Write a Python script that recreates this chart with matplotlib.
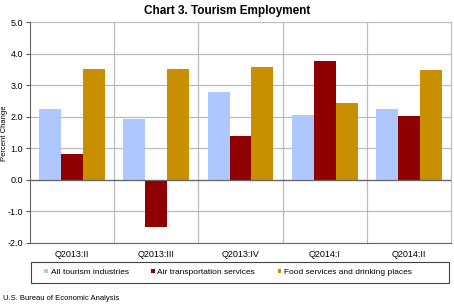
import matplotlib
matplotlib.use('Agg')
import matplotlib.pyplot as plt
from matplotlib.patches import Rectangle
import numpy as np

plt.rcParams['font.family'] = ['Liberation Sans', 'DejaVu Sans']

quarters = ['Q2013:II', 'Q2013:III', 'Q2013:IV', 'Q2014:I', 'Q2014:II']
all_tourism = [2.25, 1.93, 2.78, 2.06, 2.24]
air_transport = [0.83, -1.50, 1.40, 3.76, 2.02]
food_services = [3.52, 3.52, 3.57, 2.43, 3.49]
series_names = ['All tourism industries', 'Air transportation services',
                'Food services and drinking places']
colors = ['#AEC8FF', '#900000', '#C89000']

fig = plt.figure(figsize=(4.54, 3.06), dpi=100)
ax = fig.add_axes([30/454, 1-243/306, 421/454, 221/306])

x = np.arange(len(quarters))
w = 0.26
for k, (vals, c) in enumerate(zip([all_tourism, air_transport, food_services], colors)):
    ax.bar(x + (k-1)*w, vals, width=w, color=c, label=series_names[k], zorder=3)

ax.set_xlim(-0.5, len(quarters)-0.5)
ax.set_ylim(-2.0, 5.0)
ax.set_yticks(np.arange(-2, 5.1, 1))
ax.set_yticklabels(['%.1f' % v for v in np.arange(-2, 5.1, 1)], fontsize=6.5)
ax.set_xticks(x)
ax.set_xticklabels(quarters, fontsize=6.5)
ax.tick_params(axis='x', length=0, pad=5)
ax.tick_params(axis='y', length=3, width=0.8, color='#555555', pad=2)
for xv in np.arange(0.5, len(quarters)-0.5, 1):
    ax.axvline(xv, color='#BBBBBB', lw=0.9, zorder=1)
ax.yaxis.grid(True, color='#BBBBBB', lw=0.9, zorder=1)
ax.axhline(0, color='#666666', lw=0.9, zorder=4)
ax.spines['top'].set_visible(False)
ax.spines['right'].set_color('#BBBBBB')
ax.spines['left'].set_color('#666666')
ax.spines['bottom'].set_color('#666666')

fig.text(5/454, 1-133/306, 'Percent Change', rotation=90, ha='center', va='center',
         fontsize=5.5)

fig.text(0.5, 0.985, 'Chart 3. Tourism Employment', ha='center', va='top',
         fontsize=8.5, fontweight='bold')

# legend box drawn separately, items centred inside it
fig.patches.append(Rectangle((31/454, 1-283/306), 418/454, 21/306, transform=fig.transFigure,
                             fill=False, edgecolor='#444444', lw=0.8))
leg = fig.legend(loc='center', bbox_to_anchor=(228/454, 1-272.5/306),
                 ncol=3, fontsize=6, frameon=False,
                 handlelength=0.45, handleheight=0.45, handletextpad=0.3,
                 columnspacing=2.7, borderaxespad=0, borderpad=0)

fig.text(3/454, 1-299/306, 'U.S. Bureau of Economic Analysis', ha='left', va='center',
         fontsize=5.5)

fig.savefig('out.png', dpi=100)
